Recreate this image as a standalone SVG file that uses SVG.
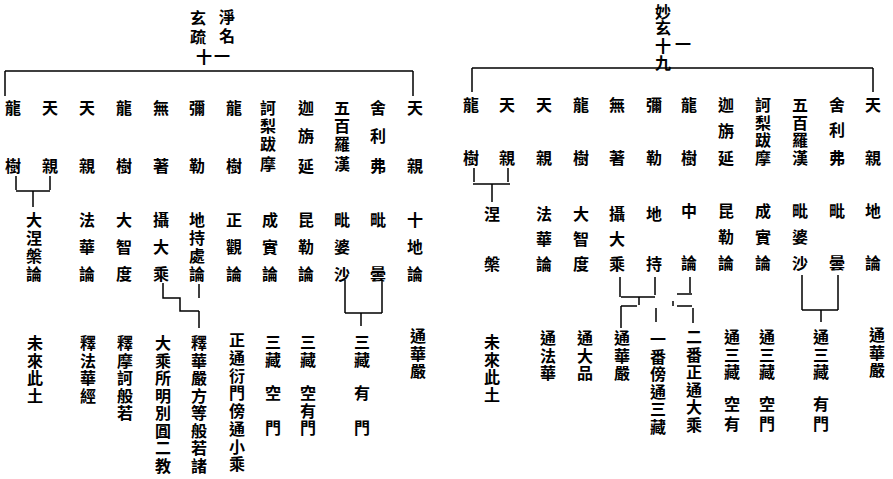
<svg xmlns="http://www.w3.org/2000/svg" width="893" height="479" viewBox="0 0 893 479">
<style>
.t{font-family:"Noto Sans CJK TC","Noto Sans CJK SC",sans-serif;font-size:16px;font-weight:700;text-anchor:middle;dominant-baseline:central;fill:#000}
.c{stroke:#000;stroke-width:1.5;fill:none}
</style>
<rect width="893" height="479" fill="#fff"/>
<g id="connectors" class="c">
<path d="M5,71 H413 M5,71 V96 M413,71 V96"/>
<path d="M16,176 V190 M50,176 V190 M16,191 H50 M33,191 V207"/>
<path d="M163,283 V298 H180 V311 H199 M199,284 V298 M199,311 V328"/>
<path d="M345,280 V313 M382,280 V313 M345,313 H382 M361,313 V326"/>
<path d="M472,68 H873 M472,68 V92 M873,68 V92"/>
<path d="M474,168 V182 M508,168 V182 M473,184 H510 M492,184 V202"/>
<path d="M620,277 V297 M621,297 H655 M639,297 V305 M621,306 H637 M621,306 V328 M655,277 V295 M656,308 V322 M690,277 V293 M677,294 H692 M673,301 V306 M677,306 H692 M693,308 V323"/>
<path d="M802,275 V310 M838,275 V310 M802,310 H838 M821,310 V322"/>
</g>
<g id="header-left" class="t"><text><tspan x="227" y="16">淨</tspan><tspan x="227" y="35">名</tspan><tspan x="198" y="17">玄</tspan><tspan x="198" y="36">疏</tspan><tspan x="204" y="56">十</tspan><tspan x="222" y="55">一</tspan></text></g>
<g id="header-right" class="t"><text><tspan x="663" y="11">妙</tspan><tspan x="663" y="27">玄</tspan><tspan x="663" y="45">十</tspan><tspan x="683" y="43">一</tspan><tspan x="663" y="62">九</tspan></text></g>
<g id="L1" class="t"><text><tspan x="13" y="107">龍</tspan><tspan x="13" y="165">樹</tspan></text></g>
<g id="L2" class="t"><text><tspan x="50" y="107">天</tspan><tspan x="50" y="165">親</tspan></text></g>
<g id="L1b" class="t"><text><tspan x="34" y="219">大</tspan><tspan x="34" y="237">涅</tspan><tspan x="34" y="255">槃</tspan><tspan x="34" y="273">論</tspan><tspan x="35" y="342">未</tspan><tspan x="35" y="359.5">來</tspan><tspan x="35" y="377">此</tspan><tspan x="35" y="394.5">土</tspan></text></g>
<g id="L3" class="t"><text><tspan x="87" y="107">天</tspan><tspan x="87" y="165">親</tspan><tspan x="87" y="219">法</tspan><tspan x="87" y="246">華</tspan><tspan x="87" y="273">論</tspan><tspan x="88" y="342">釋</tspan><tspan x="88" y="359.5">法</tspan><tspan x="88" y="377">華</tspan><tspan x="88" y="394.5">經</tspan></text></g>
<g id="L4" class="t"><text><tspan x="124" y="107">龍</tspan><tspan x="124" y="165">樹</tspan><tspan x="124" y="219">大</tspan><tspan x="124" y="246">智</tspan><tspan x="124" y="273">度</tspan><tspan x="125" y="342">釋</tspan><tspan x="125" y="359.5">摩</tspan><tspan x="125" y="377">訶</tspan><tspan x="125" y="394.5">般</tspan><tspan x="125" y="412">若</tspan></text></g>
<g id="L5" class="t"><text><tspan x="161" y="107">無</tspan><tspan x="161" y="165">著</tspan><tspan x="161" y="219">攝</tspan><tspan x="161" y="246">大</tspan><tspan x="161" y="273">乘</tspan><tspan x="163" y="342">大</tspan><tspan x="163" y="359.5">乘</tspan><tspan x="163" y="377">所</tspan><tspan x="163" y="394.5">明</tspan><tspan x="163" y="412">別</tspan><tspan x="163" y="429.5">圓</tspan><tspan x="163" y="447">二</tspan><tspan x="163" y="464.5">教</tspan></text></g>
<g id="L6" class="t"><text><tspan x="197" y="107">彌</tspan><tspan x="197" y="165">勒</tspan><tspan x="197" y="219">地</tspan><tspan x="197" y="237">持</tspan><tspan x="197" y="255">處</tspan><tspan x="197" y="273">論</tspan><tspan x="199" y="342">釋</tspan><tspan x="199" y="359.5">華</tspan><tspan x="199" y="377">嚴</tspan><tspan x="199" y="394.5">方</tspan><tspan x="199" y="412">等</tspan><tspan x="199" y="429.5">般</tspan><tspan x="199" y="447">若</tspan><tspan x="199" y="464.5">諸</tspan></text></g>
<g id="L7" class="t"><text><tspan x="234" y="107">龍</tspan><tspan x="234" y="165">樹</tspan><tspan x="234" y="219">正</tspan><tspan x="234" y="246">觀</tspan><tspan x="234" y="273">論</tspan><tspan x="237" y="339">正</tspan><tspan x="237" y="357">通</tspan><tspan x="237" y="374.5">衍</tspan><tspan x="237" y="392">門</tspan><tspan x="237" y="410">傍</tspan><tspan x="237" y="428">通</tspan><tspan x="237" y="445.5">小</tspan><tspan x="237" y="463">乘</tspan></text></g>
<g id="L8" class="t"><text><tspan x="268" y="107">訶</tspan><tspan x="268" y="125">梨</tspan><tspan x="268" y="143">跋</tspan><tspan x="268" y="163">摩</tspan><tspan x="270" y="219">成</tspan><tspan x="270" y="246">實</tspan><tspan x="270" y="273">論</tspan><tspan x="273" y="341">三</tspan><tspan x="273" y="358.5">藏</tspan><tspan x="273" y="392">空</tspan><tspan x="273" y="427">門</tspan></text></g>
<g id="L9" class="t"><text><tspan x="306" y="107">迦</tspan><tspan x="306" y="135">旃</tspan><tspan x="306" y="165">延</tspan><tspan x="306" y="219">昆</tspan><tspan x="306" y="246">勒</tspan><tspan x="306" y="273">論</tspan><tspan x="308" y="341">三</tspan><tspan x="308" y="358.5">藏</tspan><tspan x="308" y="392">空</tspan><tspan x="308" y="409.5">有</tspan><tspan x="308" y="427">門</tspan></text></g>
<g id="L10" class="t"><text><tspan x="342" y="107">五</tspan><tspan x="342" y="125">百</tspan><tspan x="342" y="143">羅</tspan><tspan x="342" y="163">漢</tspan><tspan x="342" y="219">毗</tspan><tspan x="342" y="246">婆</tspan><tspan x="342" y="273">沙</tspan></text></g>
<g id="L11" class="t"><text><tspan x="378" y="107">舍</tspan><tspan x="378" y="135">利</tspan><tspan x="378" y="165">弗</tspan><tspan x="378" y="219">毗</tspan><tspan x="378" y="273">曇</tspan><tspan x="362" y="341">三</tspan><tspan x="362" y="358.5">藏</tspan><tspan x="362" y="392">有</tspan><tspan x="362" y="427">門</tspan></text></g>
<g id="L12" class="t"><text><tspan x="415" y="107">天</tspan><tspan x="415" y="165">親</tspan><tspan x="415" y="219">十</tspan><tspan x="415" y="246">地</tspan><tspan x="415" y="273">論</tspan><tspan x="418" y="335">通</tspan><tspan x="418" y="352.5">華</tspan><tspan x="418" y="370">嚴</tspan></text></g>
<g id="R1" class="t"><text><tspan x="471" y="104">龍</tspan><tspan x="471" y="157">樹</tspan></text></g>
<g id="R2" class="t"><text><tspan x="507" y="104">天</tspan><tspan x="507" y="157">親</tspan></text></g>
<g id="R1b" class="t"><text><tspan x="492" y="213">涅</tspan><tspan x="492" y="263">槃</tspan><tspan x="492" y="341">未</tspan><tspan x="492" y="358.5">來</tspan><tspan x="492" y="376">此</tspan><tspan x="492" y="393.5">土</tspan></text></g>
<g id="R3" class="t"><text><tspan x="544" y="104">天</tspan><tspan x="544" y="157">親</tspan><tspan x="544" y="213">法</tspan><tspan x="544" y="238">華</tspan><tspan x="544" y="263">論</tspan><tspan x="548" y="337">通</tspan><tspan x="548" y="354.5">法</tspan><tspan x="548" y="372">華</tspan></text></g>
<g id="R4" class="t"><text><tspan x="581" y="104">龍</tspan><tspan x="581" y="157">樹</tspan><tspan x="581" y="213">大</tspan><tspan x="581" y="238">智</tspan><tspan x="581" y="263">度</tspan><tspan x="585" y="337">通</tspan><tspan x="585" y="354.5">大</tspan><tspan x="585" y="372">品</tspan></text></g>
<g id="R5" class="t"><text><tspan x="617" y="104">無</tspan><tspan x="617" y="157">著</tspan><tspan x="617" y="213">攝</tspan><tspan x="617" y="238">大</tspan><tspan x="617" y="263">乘</tspan><tspan x="622" y="337">通</tspan><tspan x="622" y="354.5">華</tspan><tspan x="622" y="372">嚴</tspan></text></g>
<g id="R6" class="t"><text><tspan x="654" y="104">彌</tspan><tspan x="654" y="157">勒</tspan><tspan x="654" y="213">地</tspan><tspan x="654" y="263">持</tspan><tspan x="658" y="338">一</tspan><tspan x="658" y="355.5">番</tspan><tspan x="658" y="373">傍</tspan><tspan x="658" y="390.5">通</tspan><tspan x="658" y="408">三</tspan><tspan x="658" y="425.5">藏</tspan></text></g>
<g id="R7" class="t"><text><tspan x="689" y="104">龍</tspan><tspan x="689" y="157">樹</tspan><tspan x="689" y="210">中</tspan><tspan x="689" y="262">論</tspan><tspan x="694" y="336">二</tspan><tspan x="694" y="353.5">番</tspan><tspan x="694" y="371">正</tspan><tspan x="694" y="388.5">通</tspan><tspan x="694" y="406">大</tspan><tspan x="694" y="423.5">乘</tspan></text></g>
<g id="R8" class="t"><text><tspan x="726" y="104">迦</tspan><tspan x="726" y="130">旃</tspan><tspan x="726" y="157">延</tspan><tspan x="726" y="210">昆</tspan><tspan x="726" y="236">勒</tspan><tspan x="726" y="262">論</tspan><tspan x="732" y="336">通</tspan><tspan x="732" y="353.5">三</tspan><tspan x="732" y="371">藏</tspan><tspan x="732" y="403">空</tspan><tspan x="732" y="423">有</tspan></text></g>
<g id="R9" class="t"><text><tspan x="763" y="104">訶</tspan><tspan x="763" y="121.5">梨</tspan><tspan x="763" y="139">跋</tspan><tspan x="763" y="157">摩</tspan><tspan x="763" y="210">成</tspan><tspan x="763" y="236">實</tspan><tspan x="763" y="262">論</tspan><tspan x="767" y="336">通</tspan><tspan x="767" y="353.5">三</tspan><tspan x="767" y="371">藏</tspan><tspan x="767" y="403">空</tspan><tspan x="767" y="423">門</tspan></text></g>
<g id="R10" class="t"><text><tspan x="800" y="104">五</tspan><tspan x="800" y="121.5">百</tspan><tspan x="800" y="139">羅</tspan><tspan x="800" y="157">漢</tspan><tspan x="800" y="210">毗</tspan><tspan x="800" y="236">婆</tspan><tspan x="800" y="262">沙</tspan></text></g>
<g id="R11" class="t"><text><tspan x="837" y="104">舍</tspan><tspan x="837" y="129">利</tspan><tspan x="837" y="157">弗</tspan><tspan x="837" y="210">毗</tspan><tspan x="837" y="262">曇</tspan><tspan x="821" y="336">通</tspan><tspan x="821" y="353.5">三</tspan><tspan x="821" y="371">藏</tspan><tspan x="821" y="403">有</tspan><tspan x="821" y="423">門</tspan></text></g>
<g id="R12" class="t"><text><tspan x="873" y="104">天</tspan><tspan x="873" y="157">親</tspan><tspan x="873" y="210">地</tspan><tspan x="873" y="262">論</tspan><tspan x="877" y="334">通</tspan><tspan x="877" y="351.5">華</tspan><tspan x="877" y="369">嚴</tspan></text></g>
</svg>
